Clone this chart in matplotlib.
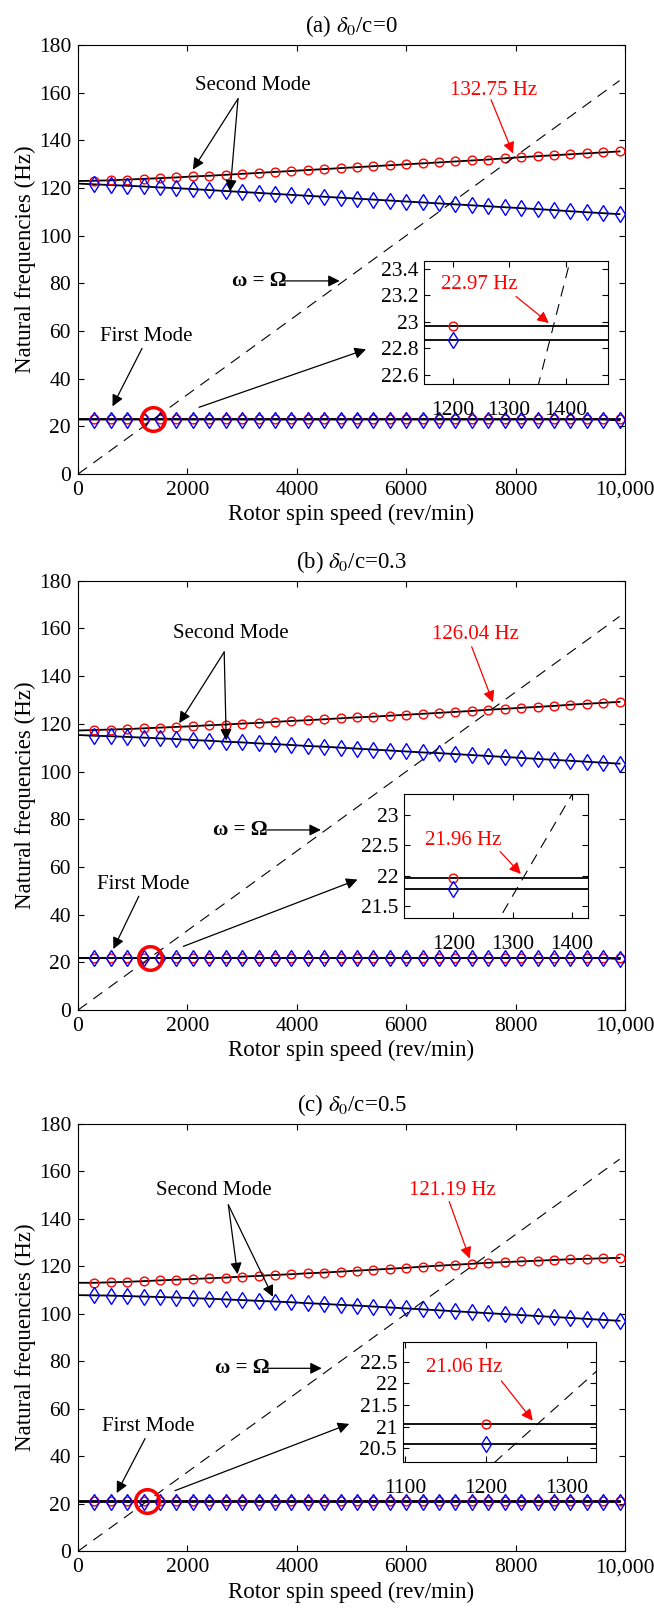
import matplotlib.pyplot as plt

plt.rcParams['font.family'] = ['Liberation Serif', 'DejaVu Serif']
plt.rcParams['mathtext.fontset'] = 'stix'
plt.rcParams['font.size'] = 15.5

# rotor speeds of the marker points (rev/min)
speed = [300, 600, 900, 1200, 1500, 1800, 2100, 2400, 2700, 3000, 3300,
         3600, 3900, 4200, 4500, 4800, 5100, 5400, 5700, 6000, 6300, 6600,
         6900, 7200, 7500, 7800, 8100, 8400, 8700, 9000, 9300, 9600, 9900]

# (a) delta0/c = 0
fw2_a = [123.0, 123.2, 123.5, 123.8, 124.1, 124.4, 124.8, 125.1, 125.5, 125.9, 126.3,
         126.7, 127.1, 127.5, 127.9, 128.3, 128.7, 129.1, 129.5, 129.9, 130.3, 130.7,
         131.1, 131.5, 131.9, 132.4, 132.9, 133.3, 133.7, 134.1, 134.5, 134.9, 135.3]
bw2_a = [121.5, 121.2, 120.9, 120.6, 120.2, 119.9, 119.5, 119.1, 118.7, 118.3, 117.9,
         117.5, 117.1, 116.7, 116.3, 115.9, 115.5, 115.1, 114.7, 114.3, 113.9, 113.5,
         113.1, 112.7, 112.3, 111.9, 111.5, 111.1, 110.7, 110.2, 109.8, 109.4, 109.0]
fw1_a = [22.97, 22.97, 22.97, 22.97, 22.97, 22.97, 22.97, 22.97, 22.97, 22.97, 22.97,
         22.97, 22.97, 22.97, 22.97, 22.97, 22.97, 22.97, 22.97, 22.97, 22.97, 22.97,
         22.97, 22.97, 22.97, 22.97, 22.97, 22.97, 22.97, 22.97, 22.97, 22.97, 22.97]
bw1_a = [22.86, 22.86, 22.86, 22.86, 22.86, 22.86, 22.86, 22.86, 22.86, 22.86, 22.86,
         22.86, 22.86, 22.86, 22.86, 22.86, 22.86, 22.86, 22.86, 22.86, 22.86, 22.86,
         22.86, 22.86, 22.86, 22.86, 22.86, 22.86, 22.86, 22.86, 22.86, 22.86, 22.5]
start_a = [122.9, 121.8, 22.97, 22.86]   # fw2, bw2, fw1, bw1 at 0 rev/min

# (b) delta0/c = 0.3
fw2_b = [117.4, 117.6, 117.8, 118.1, 118.4, 118.7, 119.0, 119.4, 119.7, 120.1, 120.4,
         120.8, 121.2, 121.5, 121.9, 122.3, 122.7, 123.0, 123.4, 123.8, 124.2, 124.6,
         125.0, 125.4, 125.9, 126.3, 126.7, 127.1, 127.5, 128.0, 128.4, 128.8, 129.2]
bw2_b = [115.0, 114.8, 114.5, 114.2, 113.9, 113.6, 113.2, 112.9, 112.5, 112.2, 111.8,
         111.5, 111.1, 110.7, 110.4, 110.0, 109.6, 109.2, 108.8, 108.4, 108.0, 107.7,
         107.3, 106.9, 106.5, 106.1, 105.7, 105.3, 104.9, 104.5, 104.1, 103.7, 103.3]
fw1_b = [21.96, 21.96, 21.96, 21.96, 21.96, 21.96, 21.96, 21.96, 21.96, 21.96, 21.96,
         21.96, 21.96, 21.96, 21.96, 21.96, 21.96, 21.96, 21.96, 21.96, 21.96, 21.96,
         21.96, 21.96, 21.96, 21.96, 21.96, 21.96, 21.96, 21.96, 21.96, 21.96, 21.96]
bw1_b = [21.78, 21.78, 21.78, 21.78, 21.78, 21.78, 21.78, 21.78, 21.78, 21.78, 21.78,
         21.78, 21.78, 21.78, 21.78, 21.78, 21.78, 21.78, 21.78, 21.78, 21.78, 21.78,
         21.78, 21.78, 21.78, 21.78, 21.78, 21.78, 21.78, 21.78, 21.78, 21.78, 21.4]
start_b = [117.2, 115.3, 21.96, 21.78]

# (c) delta0/c = 0.5
fw2_c = [113.0, 113.2, 113.4, 113.7, 114.0, 114.3, 114.6, 114.9, 115.2, 115.6, 115.9,
         116.3, 116.6, 117.0, 117.3, 117.7, 118.1, 118.5, 118.9, 119.3, 119.8, 120.2,
         120.6, 121.0, 121.4, 121.7, 122.0, 122.3, 122.6, 122.9, 123.1, 123.3, 123.5]
bw2_c = [107.7, 107.6, 107.4, 107.2, 107.0, 106.8, 106.5, 106.3, 106.0, 105.7, 105.4,
         105.1, 104.8, 104.4, 104.1, 103.7, 103.4, 103.0, 102.6, 102.2, 101.8, 101.4,
         101.0, 100.6, 100.2, 99.8, 99.4, 99.0, 98.6, 98.2, 97.8, 97.4, 97.0]
fw1_c = [21.06, 21.06, 21.06, 21.06, 21.06, 21.06, 21.06, 21.06, 21.06, 21.06, 21.06,
         21.06, 21.06, 21.06, 21.06, 21.06, 21.06, 21.06, 21.06, 21.06, 21.06, 21.06,
         21.06, 21.06, 21.06, 21.06, 21.06, 21.06, 21.06, 21.06, 21.06, 21.06, 21.06]
bw1_c = [20.6, 20.6, 20.6, 20.6, 20.6, 20.6, 20.6, 20.6, 20.6, 20.6, 20.6,
         20.6, 20.6, 20.6, 20.6, 20.6, 20.6, 20.6, 20.6, 20.6, 20.6, 20.6,
         20.6, 20.6, 20.6, 20.6, 20.6, 20.6, 20.6, 20.6, 20.6, 20.6, 20.6]
start_c = [113.0, 107.8, 21.06, 20.6]

# omega = Omega line
dash_x = [0, 9900]
dash_y = [0, 165]

titles = ['(a) $\\delta_0$/c=0', '(b) $\\delta_0$/c=0.3', '(c) $\\delta_0$/c=0.5']
cross_rpm = [1378, 1318, 1264]
cross_hz = [22.97, 21.96, 21.06]
second_label = ['132.75 Hz', '126.04 Hz', '121.19 Hz']
first_label = ['22.97 Hz', '21.96 Hz', '21.06 Hz']

# inset ticks
ins_xticks = [[1200, 1300, 1400], [1200, 1300, 1400], [1100, 1200, 1300]]
ins_yticks = [[22.6, 22.8, 23.0, 23.2, 23.4], [21.5, 22.0, 22.5, 23.0],
              [20.5, 21.0, 21.5, 22.0, 22.5]]
ins_ylabels = [['22.6', '22.8', '23', '23.2', '23.4'], ['21.5', '22', '22.5', '23'],
               ['20.5', '21', '21.5', '22', '22.5']]

data = [(fw2_a, bw2_a, fw1_a, bw1_a, start_a),
        (fw2_b, bw2_b, fw1_b, bw1_b, start_b),
        (fw2_c, bw2_c, fw1_c, bw1_c, start_c)]

# layout (figure fractions)
main_pos = [[0.1193, 0.7061, 0.8364, 0.2661],
            [0.1193, 0.3738, 0.8364, 0.2662],
            [0.1193, 0.0383, 0.8364, 0.2651]]
ins_pos = [[0.6488, 0.7619, 0.2813, 0.0765],
           [0.6182, 0.4307, 0.2813, 0.0771],
           [0.6157, 0.0934, 0.2953, 0.0748]]
ins_xlim = [(1150, 1475), (1117, 1428), (1097, 1336)]
ins_ylim = [(22.53, 23.46), (21.30, 23.35), (20.18, 22.96)]

# annotation positions per panel
ann = [
    dict(sm_txt=(3200, 163), sm_tail=(2925, 157.4), sm_h1=(2100, 127.7), sm_h2=(2780, 118.5),
         hz_txt=(7605, 160.7), hz_tail=(7550, 157.0), hz_head=(7953, 134.4),
         om_txt=(2815, 81), om_head=(4783, 81),
         fm_txt=(1243, 57.8), fm_tail=(1170, 52.7), fm_head=(630, 28.4),
         zm_tail=(2212, 28.0), zm_head=(5265, 52.3),
         in_txt=(1247, 23.28), in_tail=(1312, 23.19), in_head=(1370, 22.99)),
    dict(sm_txt=(2802, 157.7), sm_tail=(2672, 150.1), sm_h1=(1850, 120.3), sm_h2=(2710, 113.0),
         hz_txt=(7258, 157.4), hz_tail=(7197, 152.3), hz_head=(7585, 129.0),
         om_txt=(2474, 75.5), om_head=(4439, 75.5),
         fm_txt=(1187, 52.8), fm_tail=(1111, 47.7), fm_head=(646, 25.6),
         zm_tail=(1926, 26.7), zm_head=(5110, 54.7),
         in_txt=(1216, 22.59), in_tail=(1279, 22.40), in_head=(1314, 22.03)),
    dict(sm_txt=(2474, 152.0), sm_tail=(2748, 145.8), sm_h1=(2916, 116.6), sm_h2=(3563, 107.1),
         hz_txt=(6837, 151.9), hz_tail=(6786, 147.2), hz_head=(7159, 123.2),
         om_txt=(2512, 77.0), om_head=(4455, 77.0),
         fm_txt=(1278, 52.7), fm_tail=(1225, 47.4), fm_head=(707, 24.5),
         zm_tail=(1773, 25.5), zm_head=(4958, 53.6),
         in_txt=(1173, 22.37), in_tail=(1219, 22.06), in_head=(1258, 21.14)),
]


def arrow(ax, tail, head, color='k'):
    ax.annotate('', xy=head, xytext=tail,
                arrowprops=dict(arrowstyle='-|>', color=color, lw=0.9,
                                mutation_scale=17, shrinkA=0, shrinkB=0))


def draw_curves(ax, d):
    fw2, bw2, fw1, bw1, start = d
    for vals, s0 in zip([fw2, bw2, fw1, bw1], start):
        ax.plot([0] + speed, [s0] + vals, color='k', lw=1.3, zorder=2)
    for vals in [fw2, fw1]:
        ax.plot(speed, vals, ls='none', marker='o', ms=6.3, mfc='none', mec='r', mew=1, zorder=3)
    for vals in [bw2, bw1]:
        ax.plot(speed, vals, ls='none', marker='d', ms=8, mfc='none', mec='b', mew=1, zorder=3)
    ax.plot(dash_x, dash_y, color='k', ls=(0, (10, 7)), lw=0.8, zorder=4)


fig = plt.figure(figsize=(6.54, 16.13), dpi=100)

for i in range(3):
    ax = fig.add_axes(main_pos[i])
    draw_curves(ax, data[i])
    ax.plot([cross_rpm[i]], [cross_hz[i]], ls='none', marker='o', ms=17, mfc='none',
            mec='r', mew=2.5, zorder=5)
    ax.set_xlim(0, 10000)
    ax.set_ylim(0, 180)
    ax.set_xticks([0, 2000, 4000, 6000, 8000, 10000])
    ax.set_xticklabels(['0', '2000', '4000', '6000', '8000', '10,000'])
    ax.set_yticks(range(0, 181, 20))
    ax.tick_params(direction='in', top=True, right=True, length=4, width=0.8, pad=5)
    for sp in ax.spines.values():
        sp.set_linewidth(0.8)
    ax.set_xlabel('Rotor spin speed (rev/min)', fontsize=16.5, labelpad=3)
    ax.set_ylabel('Natural frequencies (Hz)', fontsize=16.5, labelpad=2)
    ax.set_title(titles[i], fontsize=16.5, pad=9)

    a = ann[i]
    ax.text(*a['sm_txt'], 'Second Mode', ha='center', va='center', fontsize=15)
    arrow(ax, a['sm_tail'], a['sm_h1'])
    arrow(ax, a['sm_tail'], a['sm_h2'])
    ax.text(*a['hz_txt'], second_label[i], ha='center', va='center', fontsize=15, color='r')
    arrow(ax, a['hz_tail'], a['hz_head'], color='r')
    ax.text(*a['om_txt'], 'ω = Ω', ha='left', va='center', fontsize=15, fontweight='bold')
    arrow(ax, (a['om_txt'][0] + 950, a['om_txt'][1]), a['om_head'])
    ax.text(*a['fm_txt'], 'First Mode', ha='center', va='center', fontsize=15)
    arrow(ax, a['fm_tail'], a['fm_head'])
    arrow(ax, a['zm_tail'], a['zm_head'])

    # zoomed inset
    ins = fig.add_axes(ins_pos[i])
    draw_curves(ins, data[i])
    ins.set_xlim(*ins_xlim[i])
    ins.set_ylim(*ins_ylim[i])
    ins.set_xticks(ins_xticks[i])
    ins.set_yticks(ins_yticks[i])
    ins.set_yticklabels(ins_ylabels[i])
    ins.tick_params(direction='in', top=True, right=True, length=4, width=0.8, pad=4)
    ins.tick_params(axis='x', pad=12)
    for sp in ins.spines.values():
        sp.set_linewidth(0.8)
    ins.text(*a['in_txt'], first_label[i], ha='center', va='center', fontsize=15, color='r')
    arrow(ins, a['in_tail'], a['in_head'], color='r')

fig.savefig('out.png', dpi=100)
